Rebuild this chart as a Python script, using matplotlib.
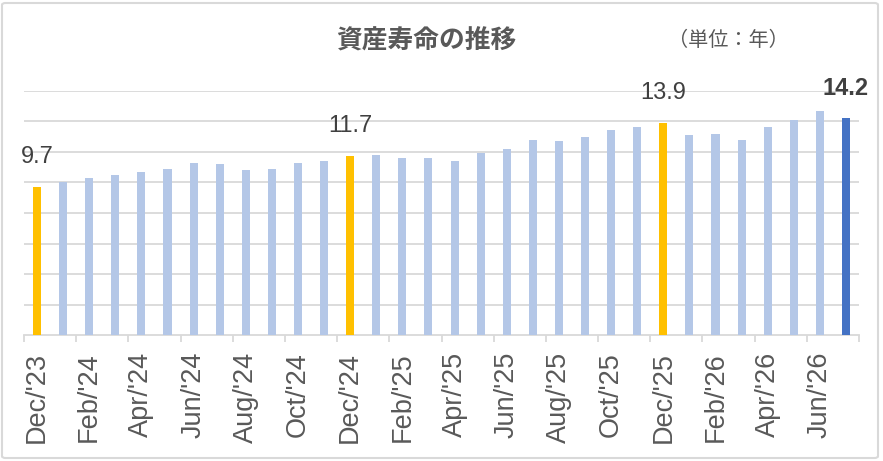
import matplotlib
matplotlib.use("Agg")
import matplotlib.pyplot as plt
from matplotlib.patches import FancyBboxPatch
import numpy as np

months = ["Dec/'23", "Jan/'24", "Feb/'24", "Mar/'24", "Apr/'24", "May/'24", "Jun/'24",
          "Jul/'24", "Aug/'24", "Sep/'24", "Oct/'24", "Nov/'24", "Dec/'24",
          "Jan/'25", "Feb/'25", "Mar/'25", "Apr/'25", "May/'25", "Jun/'25",
          "Jul/'25", "Aug/'25", "Sep/'25", "Oct/'25", "Nov/'25", "Dec/'25",
          "Jan/'26", "Feb/'26", "Mar/'26", "Apr/'26", "May/'26", "Jun/'26", "Jul/'26"]
years = [9.7, 10.0, 10.3, 10.5, 10.7, 10.9, 11.3, 11.2, 10.8, 10.9, 11.3, 11.4, 11.7,
         11.8, 11.6, 11.6, 11.4, 11.9, 12.2, 12.8, 12.7, 13.0, 13.4, 13.6, 13.9,
         13.1, 13.2, 12.8, 13.6, 14.1, 14.7, 14.2]
highlight = ["Dec/'23", "Dec/'24", "Dec/'25"]
title = "資産寿命の推移"
unit = "（単位：年）"

light = "#B4C7E7"
yellow = "#FFC000"
dark = "#4472C4"
grid = "#D9D9D9"
txt = "#595959"

colors = []
for i, m in enumerate(months):
    if i == len(months) - 1:
        colors.append(dark)
    elif m in highlight:
        colors.append(yellow)
    else:
        colors.append(light)

fig = plt.figure(figsize=(8.83, 4.61), dpi=100)
ax = fig.add_axes([24 / 883, 1 - 335.3 / 461, 835 / 883, (335.3 - 90.7) / 461])

x = np.arange(len(months))
ax.bar(x, years, width=0.31, color=colors, zorder=3)

ax.set_xlim(-0.5, len(months) - 0.5)
ax.set_ylim(0, 16)
ax.set_yticks(np.arange(2, 17, 2))
ax.yaxis.grid(True, color=grid, linewidth=1.3, zorder=0)
ax.tick_params(axis="y", left=False, labelleft=False)
for s in ["top", "right", "left"]:
    ax.spines[s].set_visible(False)
ax.spines["bottom"].set_color(grid)
ax.spines["bottom"].set_linewidth(1.3)

ax.set_xticks(x[::2])
ax.set_xticklabels(months[::2], rotation=90, fontsize=19.5, color=txt,
                   family="Liberation Sans", va="top")
ax.tick_params(axis="x", which="major", length=0, pad=12)
ax.set_xticks(np.arange(-0.5, len(months), 2), minor=True)
ax.tick_params(axis="x", which="minor", length=5, width=1.3, color=grid)

# data labels on the highlighted bars and the latest bar
for i, m in enumerate(months):
    if m in highlight or i == len(months) - 1:
        bold = i == len(months) - 1
        ax.annotate(f"{years[i]:.1f}", (x[i], years[i]), xytext=(0, 30),
                    textcoords="offset pixels", ha="center", va="center",
                    fontsize=17, color="#404040", family="Liberation Sans",
                    fontweight="bold" if bold else "normal",
                    annotation_clip=False)

fig.text(426 / 883, 1 - 41 / 461, title, ha="center", va="center", fontsize=18.5,
         fontweight="bold", color=txt, family=["Noto Sans CJK JP", "DejaVu Sans"])
fig.text(728 / 883, 1 - 41 / 461, unit, ha="center", va="center", fontsize=14.5,
         color=txt, family=["Noto Sans CJK JP", "DejaVu Sans"])

border = FancyBboxPatch((2 / 883, 3 / 461), 876 / 883, 455 / 461,
                        boxstyle="round,pad=0,rounding_size=0.004",
                        transform=fig.transFigure, fill=False,
                        edgecolor=grid, linewidth=1.5)
fig.patches.append(border)

fig.savefig("out.png", dpi=100)
